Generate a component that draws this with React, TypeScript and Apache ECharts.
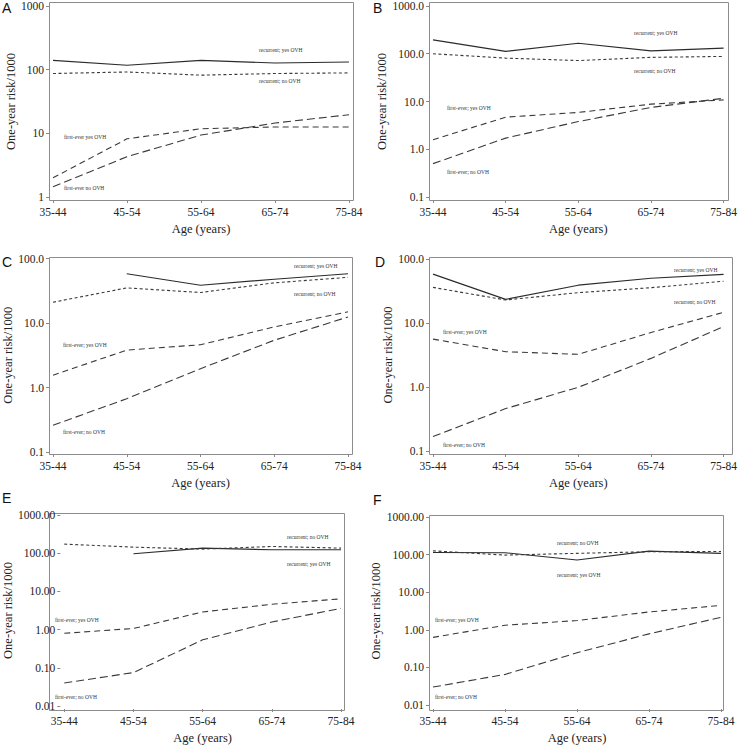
import React, { useEffect, useRef } from 'react';
import * as echarts from 'echarts';

const ageGroups = ['35-44', '45-54', '55-64', '65-74', '75-84'];
const panelLetters = ['A', 'B', 'C', 'D', 'E', 'F'];

// Panel A
const aRecurrentYes = [140, 117, 140, 127, 132];
const aRecurrentNo = [87, 92, 82, 87, 89];
const aFirstYes = [2.0, 8.2, 11.8, 12.6, 12.6];
const aFirstNo = [1.45, 4.3, 9.4, 14.5, 19.6];
// Panel B
const bRecurrentYes = [195, 112, 166, 115, 131];
const bRecurrentNo = [100, 81, 72, 84, 88];
const bFirstYes = [1.58, 4.7, 5.9, 8.8, 10.8];
const bFirstNo = [0.5, 1.71, 3.8, 7.5, 11.7];
// Panel C
const cRecurrentYes = [null, 58, 38.5, 47.8, 58];
const cRecurrentNo = [21, 35, 29.7, 42, 51];
const cFirstYes = [1.55, 3.8, 4.6, 8.7, 14.9];
const cFirstNo = [0.26, 0.67, 1.96, 5.4, 12.4];
// Panel D
const dRecurrentYes = [58, 23.4, 39, 50, 57.5];
const dRecurrentNo = [36, 22.9, 29.8, 35.6, 45];
const dFirstYes = [5.6, 3.56, 3.24, 7.1, 14.7];
const dFirstNo = [0.168, 0.46, 0.99, 2.8, 8.8];
// Panel E
const eRecurrentYes = [null, 97, 136, 123, 123];
const eRecurrentNo = [173, 144, 128, 150, 136];
const eFirstYes = [0.8, 1.07, 2.9, 4.6, 6.4];
const eFirstNo = [0.04, 0.075, 0.54, 1.58, 3.6];
// Panel F
const fRecurrentYes = [114, 112, 72, 124, 108];
const fRecurrentNo = [126, 97, 108, 119, 121];
const fFirstYes = [0.63, 1.32, 1.76, 2.98, 4.47];
const fFirstNo = [0.03, 0.065, 0.245, 0.78, 2.15];

const yMins = [1, 0.1, 0.1, 0.1, 0.01, 0.01];
const yMaxs = [1000, 1000, 100, 100, 1000, 1000];
const yDecimals = [0, 1, 1, 1, 2, 2];

const panelSeries = [
  [aRecurrentYes, aRecurrentNo, aFirstYes, aFirstNo],
  [bRecurrentYes, bRecurrentNo, bFirstYes, bFirstNo],
  [cRecurrentYes, cRecurrentNo, cFirstYes, cFirstNo],
  [dRecurrentYes, dRecurrentNo, dFirstYes, dFirstNo],
  [eRecurrentYes, eRecurrentNo, eFirstYes, eFirstNo],
  [fRecurrentYes, fRecurrentNo, fFirstYes, fFirstNo],
];

const labelRecYes = 'recurrent; yes OVH';
const labelRecNo = 'recurrent; no OVH';
const labelFirstYes = 'first-ever; yes OVH';
const labelFirstNo = 'first-ever; no OVH';
const labelFirstYesA = 'first-ever yes OVH';
const labelFirstNoA = 'first-ever no OVH';

const panelLabels = [
  [labelRecYes, labelRecNo, labelFirstYesA, labelFirstNoA],
  [labelRecYes, labelRecNo, labelFirstYes, labelFirstNo],
  [labelRecYes, labelRecNo, labelFirstYes, labelFirstNo],
  [labelRecYes, labelRecNo, labelFirstYes, labelFirstNo],
  [labelRecYes, labelRecNo, labelFirstYes, labelFirstNo],
  [labelRecYes, labelRecNo, labelFirstYes, labelFirstNo],
];

// layout (pixels)
const layout = [
  { x0: 53, x4: 349, yTop: 3.5, yBot: 197, boxL: 49, boxT: 2, boxR: 353, boxB: 200, nameGap: 27, letter: [2, 8] },
  { x0: 433, x4: 724, yTop: 4, yBot: 197, boxL: 429, boxT: 2, boxR: 728, boxB: 200, nameGap: 37, letter: [373, 8] },
  { x0: 53, x4: 348, yTop: 258.5, yBot: 452, boxL: 49, boxT: 257, boxR: 352, boxB: 454, nameGap: 31, letter: [2, 262] },
  { x0: 433, x4: 728, yTop: 259, yBot: 451, boxL: 429, boxT: 257, boxR: 732, boxB: 454, nameGap: 34, letter: [375, 262] },
  { x0: 53, x4: 341, yTop: 515, yBot: 707, boxL: 49, boxT: 513, boxR: 344, boxB: 710, nameGap: 37, letter: [2, 498] },
  { x0: 433, x4: 721, yTop: 517, yBot: 706, boxL: 429, boxT: 515, boxR: 723, boxB: 710, nameGap: 40, letter: [373, 500] },
];

// annotation positions [left x, center y] for the 4 series labels of each panel
const annotationPos = [
  [[259, 50], [259, 81], [64, 137], [64, 188]],
  [[634, 33], [634, 71], [447, 108], [447, 172]],
  [[294, 266], [294, 294], [63, 345], [63, 432]],
  [[674, 270], [674, 302], [443, 332], [443, 445]],
  [[287, 564], [287, 537], [55, 620], [55, 697]],
  [[557, 575], [557, 543], [435, 620], [435, 697]],
];

const lineStyles = [
  { color: '#2b2b2b', width: 1.1, type: 'solid' as any },
  { color: '#3a3a3a', width: 1.1, type: [3, 2.5] as any },
  { color: '#3a3a3a', width: 1.1, type: [6, 4] as any },
  { color: '#3a3a3a', width: 1.1, type: [8, 4] as any },
];

const SERIF = '"Liberation Serif", "Times New Roman", serif';
const SANS = '"Liberation Sans", Arial, sans-serif';

export default function App() {
  const ref = useRef<HTMLDivElement>(null);
  useEffect(() => {
    if (!ref.current) return;
    const chart = echarts.init(ref.current, undefined, { renderer: 'svg' });
    const grids: any[] = [];
    const xAxes: any[] = [];
    const yAxes: any[] = [];
    const series: any[] = [];
    const graphics: any[] = [];
    layout.forEach((L, i) => {
      grids.push({ left: L.x0, top: L.yTop, width: L.x4 - L.x0, height: L.yBot - L.yTop, containLabel: false });
      xAxes.push({
        type: 'category',
        gridIndex: i,
        data: ageGroups,
        boundaryGap: false,
        offset: L.boxB - L.yBot,
        axisLine: { show: false },
        axisTick: { show: true, length: 3, alignWithLabel: true, lineStyle: { color: '#888' } },
        axisLabel: { interval: 0, fontFamily: SERIF, fontSize: 11.5, fontWeight: 'normal', color: '#222', margin: 6 },
        splitLine: { show: false },
        name: 'Age (years)',
        nameLocation: 'middle',
        nameGap: 22,
        nameTextStyle: { fontFamily: SERIF, fontSize: 12.5, fontWeight: 'normal', color: '#222', verticalAlign: 'top' },
      });
      const dec = yDecimals[i];
      yAxes.push({
        type: 'log',
        logBase: 10,
        gridIndex: i,
        min: yMins[i],
        max: yMaxs[i],
        interval: 1,
        offset: L.x0 - L.boxL,
        axisLine: { show: false },
        axisTick: { show: true, length: 3, lineStyle: { color: '#888' } },
        axisLabel: {
          fontFamily: SERIF,
          fontSize: 11.5,
          fontWeight: 'normal',
          color: '#222',
          margin: 5,
          formatter: (v: number) => Number(v).toFixed(dec),
        },
        splitLine: { show: false },
        minorTick: { show: false },
        name: 'One-year risk/1000',
        nameLocation: 'middle',
        nameGap: L.nameGap,
        nameTextStyle: { fontFamily: SERIF, fontSize: 12.5, fontWeight: 'normal', color: '#222' },
      });
      panelSeries[i].forEach((arr, k) => {
        series.push({
          type: 'line',
          xAxisIndex: i,
          yAxisIndex: i,
          data: arr.map((v) => (v == null ? '-' : v)),
          symbol: 'none',
          showSymbol: false,
          silent: true,
          lineStyle: lineStyles[k],
        });
      });
      graphics.push({
        type: 'rect',
        silent: true,
        shape: { x: L.boxL + 0.5, y: L.boxT + 0.5, width: L.boxR - L.boxL, height: L.boxB - L.boxT },
        style: { fill: 'none', stroke: '#8c8c8c', lineWidth: 1 },
      });
      graphics.push({
        type: 'text',
        x: L.letter[0],
        y: L.letter[1],
        style: { text: panelLetters[i], fontFamily: SANS, fontSize: 14, fill: '#111', align: 'left', verticalAlign: 'middle' },
      });
      panelLabels[i].forEach((t, k) => {
        const p = annotationPos[i][k];
        graphics.push({
          type: 'text',
          x: p[0],
          y: p[1],
          style: { text: t, fontFamily: SERIF, fontSize: 5.5, fill: '#333', align: 'left', verticalAlign: 'middle' },
        });
      });
    });
    chart.setOption({
      animation: false,
      backgroundColor: '#ffffff',
      grid: grids,
      xAxis: xAxes,
      yAxis: yAxes,
      series,
      graphic: graphics,
    });
    return () => chart.dispose();
  }, []);
  return (
    <div
      ref={ref}
      style={{ position: 'absolute', left: 0, top: 0, width: 740, height: 745, background: '#fff' }}
    />
  );
}
